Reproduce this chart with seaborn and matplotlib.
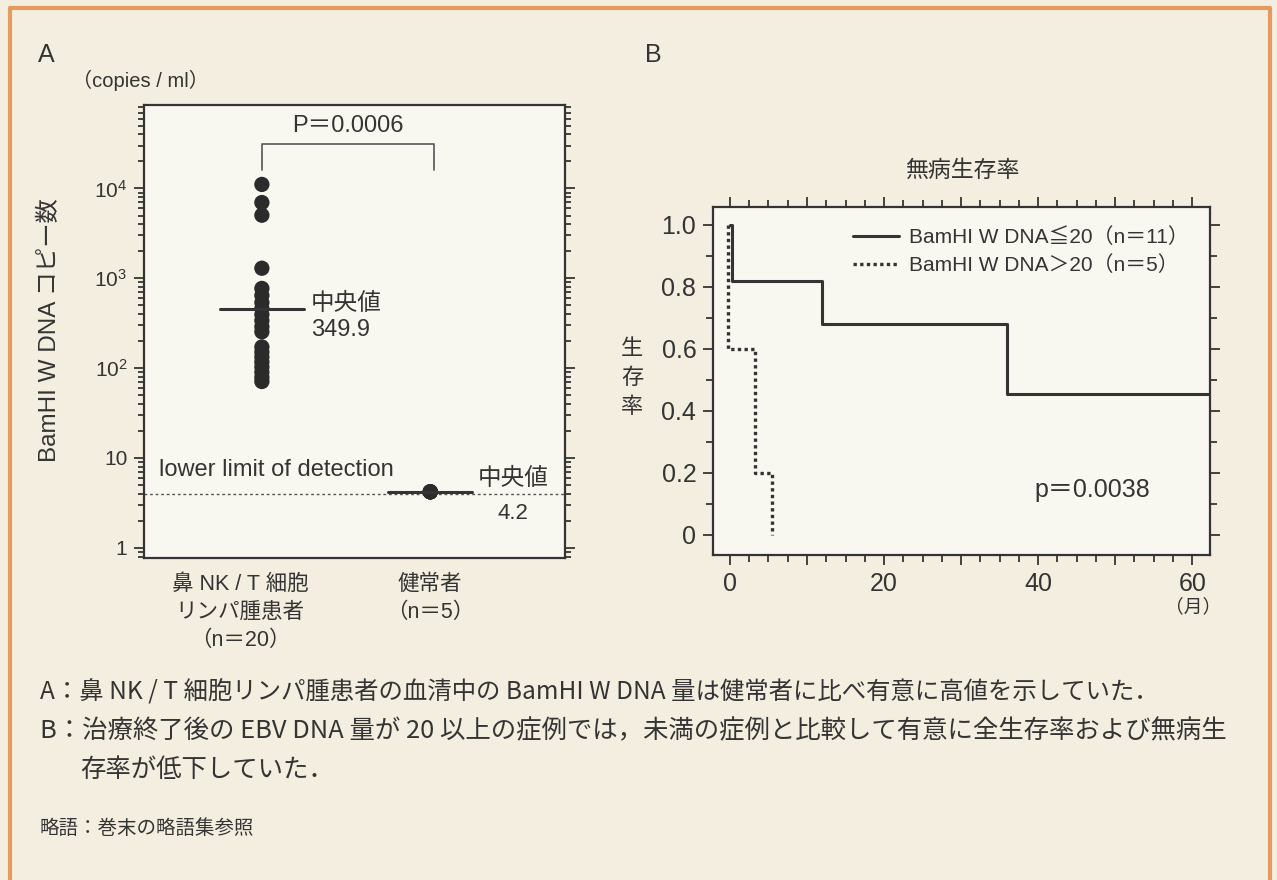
import numpy as np
import pandas as pd
import matplotlib
matplotlib.use("Agg")
import matplotlib.pyplot as plt
from matplotlib.lines import Line2D
from matplotlib.ticker import FixedLocator, FixedFormatter, LogLocator, NullFormatter, MultipleLocator
import seaborn as sns

# ── Panel A: serum BamHI W DNA copies ────────────────────────────────────
patient_copies = [11100, 6970, 5040, 1295, 772, 644, 537, 460, 394, 338,
                  289, 254, 172, 151, 133, 117, 103, 90, 79, 71]
healthy_copies = [4.2, 4.2, 4.2, 4.2, 4.2]
group_keys = ["patient", "healthy"]
group_labels = ["鼻 NK / T 細胞\nリンパ腫患者\n（n＝20）", "健常者\n（n＝5）"]
median_marks = [460, 4.2]          # where the median bars sit in the figure
median_texts = ["349.9", "4.2"]
detection_limit = 4.0
decade_ticks = [1, 10, 100, 1000, 10000]
decade_labels = ["1", "10", r"$10^2$", r"$10^3$", r"$10^4$"]

# ── Panel B: disease-free survival ───────────────────────────────────────
low_months = [0, 0.3, 12, 36, 62]
low_surv = [1.0, 0.818, 0.682, 0.455, 0.455]
high_months = [0, 0, 3.5, 5.8]
high_surv = [1.0, 0.6, 0.2, 0.0]
series_labels = ["BamHI W DNA≦20（n＝11）", "BamHI W DNA＞20（n＝5）"]

INK = "#343434"
PAGE = "#F3EEDF"
PANEL = "#F8F7F0"

sns.set_theme(style="ticks")
FONTS = ["Liberation Sans", "Noto Sans CJK JP", "DejaVu Sans"]
plt.rcParams["font.family"] = FONTS
plt.rcParams["mathtext.default"] = "regular"
plt.rcParams["text.color"] = INK
plt.rcParams["axes.edgecolor"] = INK
plt.rcParams["xtick.color"] = INK
plt.rcParams["ytick.color"] = INK

fig = plt.figure(figsize=(12.77, 8.80), dpi=100, facecolor=PAGE)
W, H = 1277, 880


def fx(px):
    return px / W


def fy(py):
    return 1 - py / H


# ── A ────────────────────────────────────────────────────────────────────
axa = fig.add_axes([fx(144), fy(558), fx(565 - 144), (558 - 105) / H])
axa.set_facecolor(PANEL)
df = pd.DataFrame({
    "group": ["patient"] * len(patient_copies) + ["healthy"] * len(healthy_copies),
    "copies": patient_copies + healthy_copies,
})
sns.stripplot(data=df, x="group", y="copies", order=group_keys, jitter=False,
              size=11, color="#2B2B2B", edgecolor="none", linewidth=0,
              log_scale=True, ax=axa, zorder=3)
axa.set_xlim(-0.70, 1.80)
axa.set_ylim(0.77, 8.5e4)
axa.set_xlabel("")
axa.set_ylabel("")

for i, m in enumerate(median_marks):
    axa.plot([i - 0.25, i + 0.25], [m, m], color=INK, lw=2.2, zorder=4)
axa.axhline(detection_limit, color="#555555", lw=1.0, ls=(0, (2, 2)), zorder=1)

axa.text(0.29, median_marks[0] * 1.12, "中央値", fontsize=17, va="center", ha="left")
axa.text(0.29, median_marks[0] / 1.75, median_texts[0], fontsize=17, va="center", ha="left")
axa.text(1.28, median_marks[1] * 1.38, "中央値", fontsize=17, va="center", ha="left")
axa.text(1.40, median_marks[1] / 1.75, median_texts[1], fontsize=16, va="center", ha="left")
axa.text(-0.61, 7.4, "lower limit of detection", fontsize=17, va="center", ha="left")

# P value bracket between the two groups
axa.plot([0, 0, 1.02, 1.02], [1.6e4, 3.1e4, 3.1e4, 1.6e4], color="#555555", lw=1.2)
axa.text(0.51, 4.9e4, "P＝0.0006", fontsize=17, ha="center", va="center")

axa.yaxis.set_major_locator(FixedLocator(decade_ticks))
axa.yaxis.set_major_formatter(FixedFormatter(decade_labels))
axa.yaxis.set_minor_locator(LogLocator(base=10, subs=np.arange(2, 10)))
axa.yaxis.set_minor_formatter(NullFormatter())
axa.tick_params(axis="y", which="both", left=True, right=True, direction="out",
                labelsize=15, width=1.3)
axa.tick_params(axis="y", which="major", length=7, pad=5)
axa.tick_params(axis="y", which="minor", length=4)
axa.tick_params(axis="x", bottom=False, labelbottom=False)
for sp in axa.spines.values():
    sp.set_visible(True)
    sp.set_linewidth(1.6)

for xpos, lab in zip([-0.13, 1.0], group_labels):
    axa.text(xpos, -0.035, lab, transform=axa.get_xaxis_transform(), ha="center",
             va="top", fontsize=15.5, linespacing=1.45)

fig.text(fx(38), fy(55), "A", fontsize=18, ha="left", va="center")
fig.text(fx(72), fy(80), "（copies / ml）", fontsize=14.5, ha="left", va="center")
fig.text(fx(50), fy(330), "BamHI W DNA コピー数", fontsize=17.5, rotation=90,
         ha="center", va="center")

# ── B ────────────────────────────────────────────────────────────────────
axb = fig.add_axes([fx(713), fy(555), fx(1210 - 713), (555 - 207) / H])
axb.set_facecolor(PANEL)
sns.lineplot(x=low_months, y=low_surv, estimator=None, sort=False,
             drawstyle="steps-post", color=INK, lw=2.2, ax=axb,
             label=series_labels[0])
sns.lineplot(x=[m - 0.3 for m in high_months], y=high_surv, estimator=None, sort=False,
             drawstyle="steps-post", color=INK, lw=2.4, ls=(0, (1, 1.0)), ax=axb,
             label=series_labels[1])
axb.set_xlim(-2.2, 62.3)
axb.set_ylim(-0.065, 1.058)
axb.set_xlabel("")
axb.set_ylabel("")

axb.xaxis.set_major_locator(MultipleLocator(10))
axb.xaxis.set_major_formatter(plt.FuncFormatter(lambda v, _: f"{v:.0f}" if v % 20 == 0 else ""))
axb.xaxis.set_minor_locator(MultipleLocator(2.5))
axb.yaxis.set_major_locator(MultipleLocator(0.2))
axb.yaxis.set_major_formatter(plt.FuncFormatter(lambda v, _: "0" if abs(v) < 1e-9 else f"{v:.1f}"))
axb.yaxis.set_minor_locator(MultipleLocator(0.1))
axb.tick_params(which="both", top=True, right=True, left=True, bottom=True,
                direction="out", width=1.3, labelsize=18)
axb.tick_params(which="major", length=7, pad=5)
axb.tick_params(which="minor", length=5)
for sp in axb.spines.values():
    sp.set_visible(True)
    sp.set_linewidth(1.6)

leg = axb.legend(loc="upper right", bbox_to_anchor=(0.995, 0.995), frameon=False,
                 prop={"family": FONTS, "size": 15}, handlelength=2.2,
                 handletextpad=0.5, labelspacing=0.4)

axb.text(39.5, 0.145, "p＝0.0038", fontsize=18, ha="left", va="center")

fig.text(fx(645), fy(55), "B", fontsize=18, ha="left", va="center")
fig.text(fx(962), fy(170), "無病生存率", fontsize=16.5, ha="center", va="center")
fig.text(fx(632), fy(378), "生\n存\n率", fontsize=16, ha="center", va="center",
         linespacing=1.5)
fig.text(fx(1193), fy(607), "（月）", fontsize=13.5, ha="center", va="center")

# ── captions ────────────────────────────────────────────────────────────
cap_font = ["Noto Sans CJK JP", "DejaVu Sans"]
fig.text(fx(40), fy(692), "A：鼻 NK / T 細胞リンパ腫患者の血清中の BamHI W DNA 量は健常者に比べ有意に高値を示していた．",
         fontsize=17.6, family=cap_font, ha="left", va="center")
fig.text(fx(40), fy(731), "B：治療終了後の EBV DNA 量が 20 以上の症例では，未満の症例と比較して有意に全生存率および無病生",
         fontsize=18.3, family=cap_font, ha="left", va="center")
fig.text(fx(80), fy(770), "存率が低下していた．",
         fontsize=18.3, family=cap_font, ha="left", va="center")
fig.text(fx(40), fy(828), "略語：巻末の略語集参照",
         fontsize=14, family=cap_font, ha="left", va="center")

# orange page border (left, top, right)
border = "#E59A5E"
fig.add_artist(Line2D([fx(10), fx(10), fx(1270), fx(1270)], [0, fy(8), fy(8), 0],
                      transform=fig.transFigure, color=border, lw=3))

fig.savefig("out.png", dpi=100, facecolor=PAGE)
plt.close(fig)
